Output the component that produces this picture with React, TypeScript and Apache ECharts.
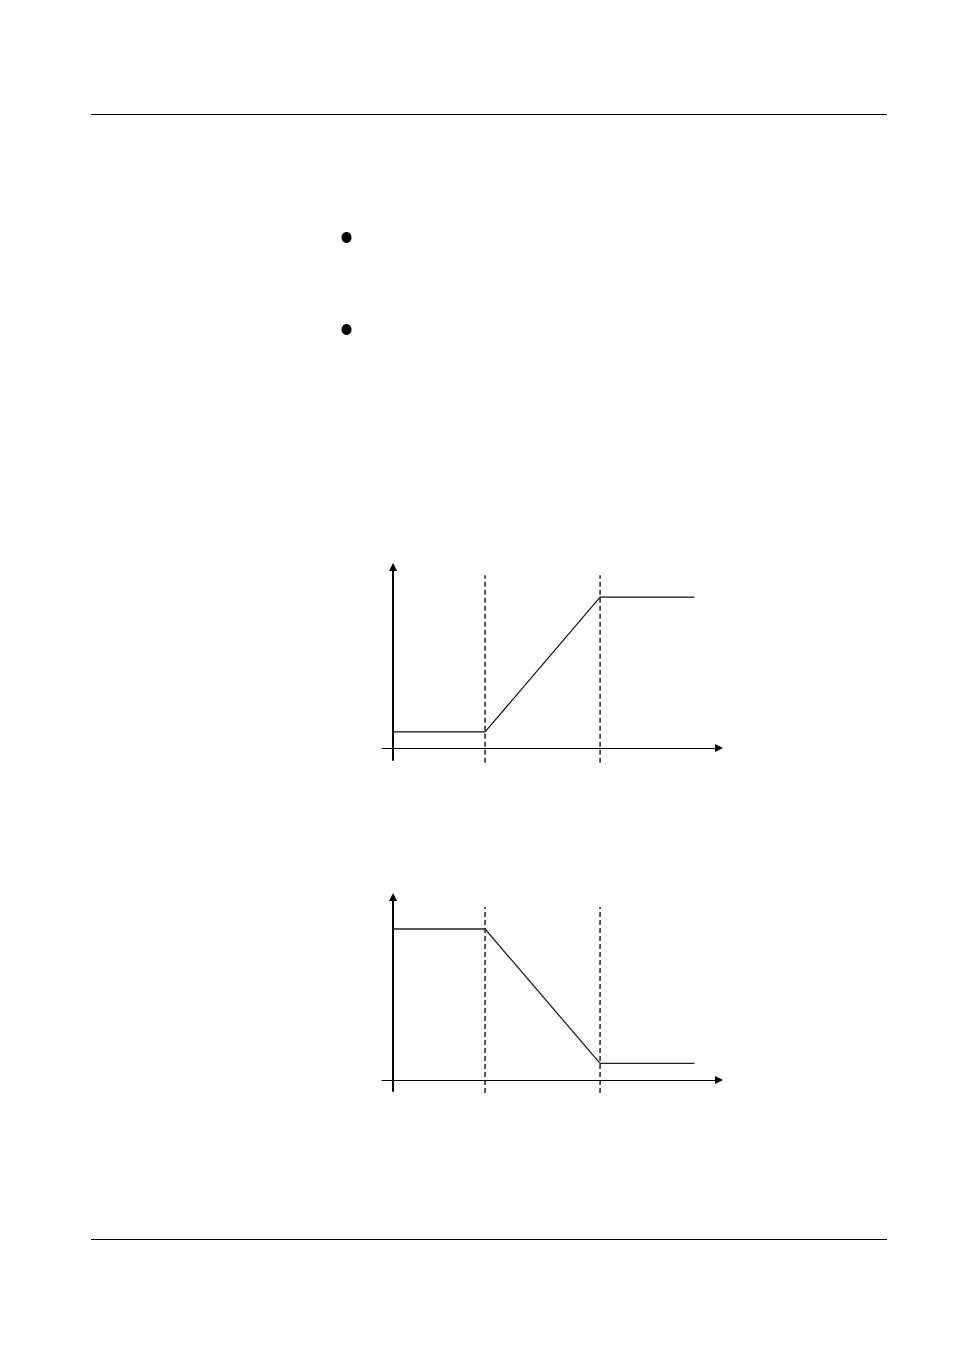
import { useRef, useEffect } from "react";
import * as echarts from "echarts";

// breakpoints along the horizontal axis (two dashed guides)
const breakX = [4, 9];

// rising curve: low plateau, ramp, high plateau
const riseX = [0, 4, 9, 13.1];
const riseY = [1.06, 1.06, 10, 10];

// falling curve: high plateau, ramp, low plateau
const fallX = [0, 4, 9, 13.1];
const fallY = [10, 10, 1.1, 1.1];

// vertical extent of the dashed guides in each chart (axis units)
const guideSpan1 = [-0.99, 11.46];
const guideSpan2 = [-0.86, 11.46];

function axisPair(gridIndex: number, yMin: number, yMax: number) {
  const hidden = {
    axisTick: { show: false },
    axisLabel: { show: false },
    splitLine: { show: false },
  };
  return {
    x: {
      type: "value",
      gridIndex,
      min: -0.48,
      max: 14.17,
      axisLine: {
        onZero: true,
        symbol: ["none", "triangle"],
        symbolSize: [8, 8],
        lineStyle: { color: "#000", width: 1 },
      },
      ...hidden,
    },
    y: {
      type: "value",
      gridIndex,
      min: yMin,
      max: yMax,
      axisLine: {
        onZero: true,
        symbol: ["none", "triangle"],
        symbolSize: [8, 8],
        lineStyle: { color: "#000", width: 2 },
      },
      ...hidden,
    },
  };
}

function guide(idx: number, x: number, span: number[]) {
  return {
    type: "line",
    xAxisIndex: idx,
    yAxisIndex: idx,
    data: [
      [x, span[0]],
      [x, span[1]],
    ],
    showSymbol: false,
    clip: false,
    silent: true,
    lineStyle: { color: "#000", width: 1.3, type: [5, 3] },
  };
}

export default function App() {
  const chartRef = useRef<HTMLDivElement>(null);

  useEffect(() => {
    if (!chartRef.current) return;
    const chart = echarts.init(chartRef.current, null, { renderer: "svg" });

    const a1 = axisPair(0, -0.8, 12);
    const a2 = axisPair(1, -0.73, 12.12);

    chart.setOption({
      animation: false,
      backgroundColor: "#fff",
      grid: [
        { left: 382, top: 567, width: 337, height: 193 },
        { left: 382, top: 897, width: 337, height: 194 },
      ],
      xAxis: [a1.x, a2.x],
      yAxis: [a1.y, a2.y],
      graphic: [
        {
          type: "line",
          shape: { x1: 91, y1: 114.5, x2: 887, y2: 114.5 },
          style: { stroke: "#000", lineWidth: 1 },
        },
        {
          type: "line",
          shape: { x1: 91, y1: 1239.5, x2: 887, y2: 1239.5 },
          style: { stroke: "#000", lineWidth: 1 },
        },
        {
          type: "ellipse",
          shape: { cx: 346.5, cy: 237.5, rx: 5, ry: 5.5 },
          style: { fill: "#000" },
        },
        {
          type: "ellipse",
          shape: { cx: 346.5, cy: 329.5, rx: 5, ry: 5.5 },
          style: { fill: "#000" },
        },
      ],
      series: [
        ...breakX.map((x) => guide(0, x, guideSpan1)),
        ...breakX.map((x) => guide(1, x, guideSpan2)),
        {
          type: "line",
          xAxisIndex: 0,
          yAxisIndex: 0,
          data: riseX.map((x, i) => [x, riseY[i]]),
          showSymbol: false,
          lineStyle: { color: "#111", width: 1.2 },
        },
        {
          type: "line",
          xAxisIndex: 1,
          yAxisIndex: 1,
          data: fallX.map((x, i) => [x, fallY[i]]),
          showSymbol: false,
          lineStyle: { color: "#222", width: 1.3 },
        },
      ],
    });

    return () => {
      chart.dispose();
    };
  }, []);

  return (
    <div
      ref={chartRef}
      style={{ position: "absolute", left: 0, top: 0, width: 954, height: 1351 }}
    />
  );
}
